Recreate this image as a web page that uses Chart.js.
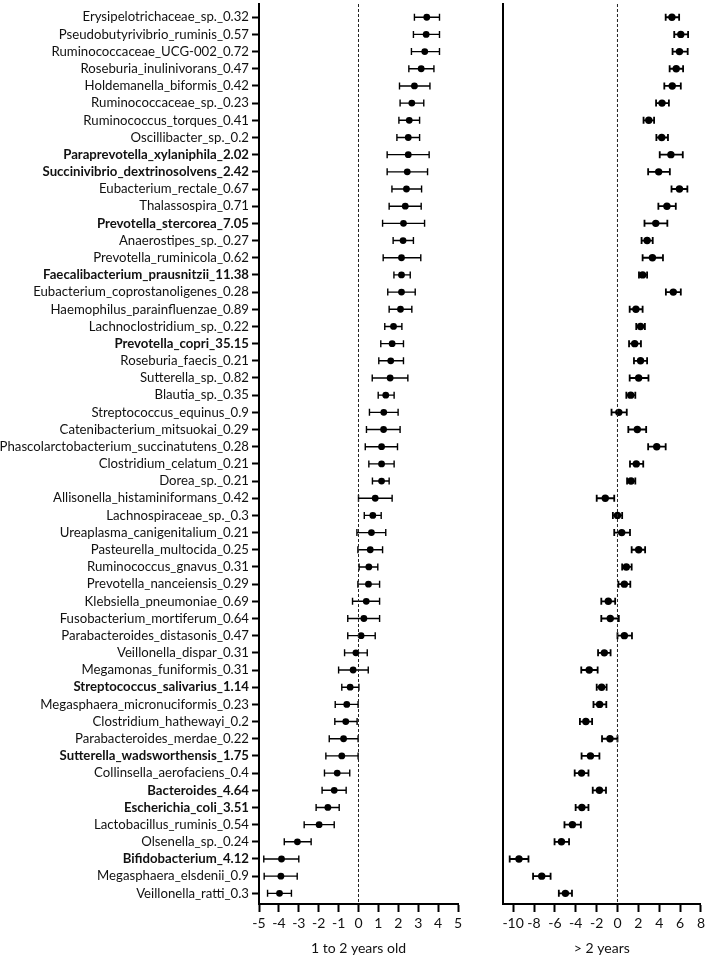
<!DOCTYPE html>
<html>
<head>
<meta charset="utf-8">
<script src="https://cdn.jsdelivr.net/npm/chart.js@4.4.1/dist/chart.umd.min.js"></script>
<style>
  body { margin: 0; background: #fff; width: 708px; height: 957px; overflow: hidden; position: relative; }
  canvas { position: absolute; top: 0; }
  #young { left: 0; }
  #older { left: 480px; }
</style>
</head>
<body>
<canvas id="young" width="475" height="957"></canvas>
<canvas id="older" width="228" height="957"></canvas>
<script>
// Forest plot, two panels: effect (mean with error bar) per taxon, 1-2 years old vs > 2 years.
var LABELS = [
  'Erysipelotrichaceae_sp._0.32', 'Pseudobutyrivibrio_ruminis_0.57', 'Ruminococcaceae_UCG-002_0.72',
  'Roseburia_inulinivorans_0.47', 'Holdemanella_biformis_0.42', 'Ruminococcaceae_sp._0.23',
  'Ruminococcus_torques_0.41', 'Oscillibacter_sp._0.2', 'Paraprevotella_xylaniphila_2.02',
  'Succinivibrio_dextrinosolvens_2.42', 'Eubacterium_rectale_0.67', 'Thalassospira_0.71',
  'Prevotella_stercorea_7.05', 'Anaerostipes_sp._0.27', 'Prevotella_ruminicola_0.62',
  'Faecalibacterium_prausnitzii_11.38', 'Eubacterium_coprostanoligenes_0.28', 'Haemophilus_parainfluenzae_0.89',
  'Lachnoclostridium_sp._0.22', 'Prevotella_copri_35.15', 'Roseburia_faecis_0.21',
  'Sutterella_sp._0.82', 'Blautia_sp._0.35', 'Streptococcus_equinus_0.9',
  'Catenibacterium_mitsuokai_0.29', 'Phascolarctobacterium_succinatutens_0.28', 'Clostridium_celatum_0.21',
  'Dorea_sp._0.21', 'Allisonella_histaminiformans_0.42', 'Lachnospiraceae_sp._0.3',
  'Ureaplasma_canigenitalium_0.21', 'Pasteurella_multocida_0.25', 'Ruminococcus_gnavus_0.31',
  'Prevotella_nanceiensis_0.29', 'Klebsiella_pneumoniae_0.69', 'Fusobacterium_mortiferum_0.64',
  'Parabacteroides_distasonis_0.47', 'Veillonella_dispar_0.31', 'Megamonas_funiformis_0.31',
  'Streptococcus_salivarius_1.14', 'Megasphaera_micronuciformis_0.23', 'Clostridium_hathewayi_0.2',
  'Parabacteroides_merdae_0.22', 'Sutterella_wadsworthensis_1.75', 'Collinsella_aerofaciens_0.4',
  'Bacteroides_4.64', 'Escherichia_coli_3.51', 'Lactobacillus_ruminis_0.54',
  'Olsenella_sp._0.24', 'Bifidobacterium_4.12', 'Megasphaera_elsdenii_0.9',
  'Veillonella_ratti_0.3'
];

var BOLD_LABELS = [
  'Paraprevotella_xylaniphila_2.02', 'Succinivibrio_dextrinosolvens_2.42', 'Prevotella_stercorea_7.05',
  'Faecalibacterium_prausnitzii_11.38', 'Prevotella_copri_35.15', 'Streptococcus_salivarius_1.14',
  'Sutterella_wadsworthensis_1.75', 'Bacteroides_4.64', 'Escherichia_coli_3.51', 'Bifidobacterium_4.12'
];

// 1 to 2 years old
var MEAN_YOUNG = [3.43, 3.40, 3.33, 3.15, 2.81, 2.68, 2.55, 2.50, 2.50, 2.45, 2.41, 2.35, 2.26, 2.24, 2.16, 2.16,
  2.16, 2.11, 1.76, 1.69, 1.62, 1.59, 1.37, 1.27, 1.26, 1.16, 1.16, 1.16, 0.84, 0.72, 0.65, 0.59, 0.52, 0.50,
  0.39, 0.27, 0.13, -0.13, -0.27, -0.42, -0.59, -0.64, -0.75, -0.84, -1.07, -1.22, -1.54, -1.98, -3.07, -3.87,
  -3.90, -3.97];
var LOW_YOUNG = [2.81, 2.76, 2.66, 2.53, 2.06, 2.09, 2.03, 1.93, 1.44, 1.44, 1.68, 1.54, 1.21, 1.74, 1.24, 1.78,
  1.47, 1.54, 1.32, 1.12, 1.02, 0.69, 0.99, 0.55, 0.40, 0.34, 0.52, 0.70, 0.00, 0.29, -0.08, -0.03, 0.03, -0.03,
  -0.30, -0.54, -0.54, -0.70, -1.00, -0.84, -1.17, -1.19, -1.47, -1.64, -1.71, -1.83, -2.13, -2.73, -3.73, -4.76,
  -4.74, -4.57];
var HIGH_YOUNG = [4.07, 4.07, 4.07, 3.79, 3.59, 3.28, 3.07, 3.07, 3.55, 3.47, 3.17, 3.15, 3.32, 2.76, 3.13, 2.60,
  2.85, 2.68, 2.18, 2.26, 2.26, 2.48, 1.79, 1.99, 2.09, 1.96, 1.79, 1.54, 1.69, 1.14, 1.37, 1.21, 0.97, 1.06,
  1.06, 1.06, 0.84, 0.44, 0.49, 0.02, -0.02, -0.07, -0.02, -0.02, -0.44, -0.62, -0.97, -1.22, -2.38, -3.00,
  -3.08, -3.37];

// > 2 years
var MEAN_OLDER = [5.22, 6.07, 5.94, 5.63, 5.25, 4.27, 3.00, 4.24, 5.12, 3.95, 5.94, 4.74, 3.67, 2.84, 3.35, 2.41,
  5.35, 1.77, 2.21, 1.65, 2.21, 2.03, 1.27, 0.13, 1.90, 3.76, 1.80, 1.30, -1.17, 0.00, 0.41, 2.03, 0.85, 0.66,
  -0.88, -0.69, 0.66, -1.26, -2.71, -1.52, -1.71, -3.03, -0.72, -2.59, -3.44, -1.73, -3.41, -4.32, -5.37, -9.44,
  -7.26, -4.99];
var LOW_OLDER = [4.62, 5.44, 5.28, 5.00, 4.49, 3.70, 2.50, 3.73, 4.05, 2.94, 5.18, 3.92, 2.59, 2.31, 2.41, 2.06,
  4.64, 1.17, 1.80, 1.11, 1.58, 1.17, 0.85, -0.57, 1.04, 2.94, 1.20, 0.92, -1.99, -0.44, -0.31, 1.36, 0.45, 0.09,
  -1.55, -1.55, 0.00, -1.86, -3.47, -1.99, -2.30, -3.60, -1.48, -3.44, -4.10, -2.37, -4.01, -5.08, -6.03, -10.33,
  -8.09, -5.62];
var HIGH_OLDER = [5.91, 6.77, 6.73, 6.29, 6.07, 4.93, 3.51, 4.84, 6.26, 5.02, 6.70, 5.59, 4.78, 3.38, 4.36, 2.84,
  6.07, 2.41, 2.63, 2.25, 2.84, 2.97, 1.71, 0.89, 2.75, 4.62, 2.47, 1.71, -0.31, 0.45, 1.20, 2.65, 1.36, 1.23,
  -0.22, 0.13, 1.39, -0.66, -1.90, -1.04, -1.07, -2.43, 0.00, -1.73, -2.78, -1.10, -2.78, -3.51, -4.64, -8.53,
  -6.41, -4.36];

var X_TICKS_YOUNG = [-5, -4, -3, -2, -1, 0, 1, 2, 3, 4, 5];
var X_TICKS_OLDER = [-10, -8, -6, -4, -2, 0, 2, 4, 6, 8];

var ROWS = LABELS.map(function (_, i) { return i + 1; });
var Y_MIN = 0.23, Y_MAX = 52.62;
var FONT = 'Lato, "Open Sans", sans-serif';

function whiskers(lows, highs, width, cap) {
  return {
    id: 'whiskers',
    beforeDatasetsDraw: function (chart) {
      var ctx = chart.ctx, xs = chart.scales.x, ys = chart.scales.y;
      ctx.save();
      ctx.strokeStyle = '#000';
      ctx.lineWidth = width;
      ROWS.forEach(function (r, i) {
        var y = ys.getPixelForValue(r);
        var a = xs.getPixelForValue(lows[i]);
        var b = xs.getPixelForValue(highs[i]);
        ctx.beginPath();
        ctx.moveTo(a, y); ctx.lineTo(b, y);
        ctx.moveTo(a, y - cap); ctx.lineTo(a, y + cap);
        ctx.moveTo(b, y - cap); ctx.lineTo(b, y + cap);
        ctx.stroke();
      });
      ctx.restore();
    }
  };
}

function panel(id, means, lows, highs, xTicks, xMin, xMax, title, o) {
  var yAxis = {
    type: 'linear', reverse: true, min: Y_MIN, max: Y_MAX,
    afterBuildTicks: function (s) { s.ticks = ROWS.map(function (v) { return { value: v }; }); },
    afterFit: function (s) { s.width = o.yWidth; s.paddingTop = 0; s.paddingBottom = 0; },
    border: { color: '#000', width: 2 },
    grid: { drawOnChartArea: false, drawTicks: o.labels, tickLength: 7, tickWidth: 2, tickColor: '#000', color: '#000' },
    ticks: {
      display: o.labels, autoSkip: false, color: '#111', padding: 3,
      callback: function (v) { return LABELS[v - 1]; },
      font: function (c) {
        var name = c.tick ? LABELS[c.tick.value - 1] : '';
        return { family: FONT, size: 13.2, weight: BOLD_LABELS.indexOf(name) >= 0 ? 'bold' : 'normal' };
      }
    }
  };

  new Chart(document.getElementById(id), {
    type: 'scatter',
    data: {
      datasets: [
        { data: [{ x: 0, y: Y_MIN }, { x: 0, y: Y_MAX }], showLine: true, borderColor: '#222',
          borderWidth: 1, borderDash: [3, 2], pointRadius: 0 },
        { data: means.map(function (m, i) { return { x: m, y: ROWS[i] }; }),
          pointRadius: o.r, backgroundColor: '#000', borderColor: '#000', borderWidth: 0 }
      ]
    },
    options: {
      responsive: false, animation: false, events: [],
      layout: { padding: { right: o.padRight, top: 0 } },
      plugins: { legend: { display: false }, tooltip: { enabled: false } },
      scales: {
        x: {
          type: 'linear', min: xMin, max: xMax,
          afterBuildTicks: function (s) { s.ticks = xTicks.map(function (v) { return { value: v }; }); },
          afterFit: function (s) { s.height = 53; },
          border: { color: '#000', width: 2 },
          grid: { drawOnChartArea: false, tickLength: 8, tickWidth: 2, tickColor: '#000', color: '#000' },
          ticks: { color: '#111', padding: 3, maxRotation: 0, autoSkip: false, font: { family: FONT, size: 14 } },
          title: { display: true, text: title, color: '#111', font: { family: FONT, size: 14 }, padding: { top: 4, bottom: 0 } }
        },
        y: yAxis
      }
    },
    plugins: [whiskers(lows, highs, o.lw, 3.5)]
  });
}

panel('young', MEAN_YOUNG, LOW_YOUNG, HIGH_YOUNG, X_TICKS_YOUNG, -5, 5, '1 to 2 years old',
  { labels: true, yWidth: 259, padRight: 17, r: 3.4, lw: 1.4 });
panel('older', MEAN_OLDER, LOW_OLDER, HIGH_OLDER, X_TICKS_OLDER, -11, 8, '> 2 years',
  { labels: false, yWidth: 22.7, padRight: 4.3, r: 3.7, lw: 1.8 });
</script>
</body>
</html>
